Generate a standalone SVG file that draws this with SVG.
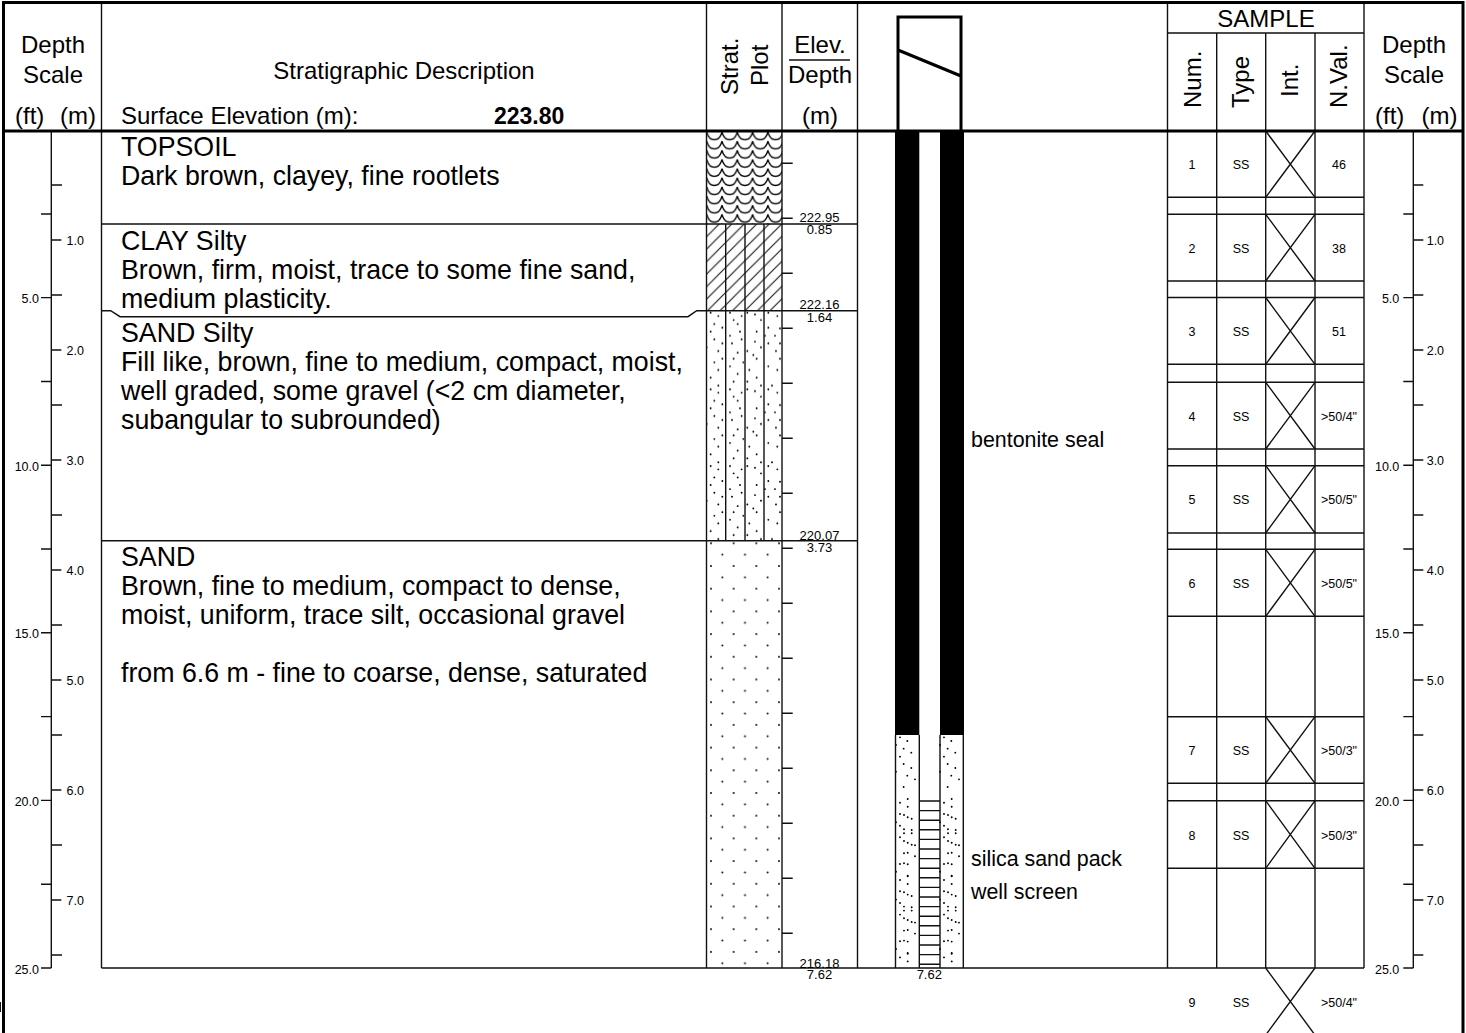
<svg xmlns="http://www.w3.org/2000/svg" xmlns:xlink="http://www.w3.org/1999/xlink" width="1466" height="1033" viewBox="0 0 1466 1033">
<style>
text{font-family:"Liberation Sans",Arial,sans-serif;fill:#000}
.h{font-size:24px}
.hm{font-size:24px;text-anchor:middle}
.d{font-size:26.75px}
.n{font-size:21.4px}
.t{font-size:12.5px}
.tr{font-size:12.5px;text-anchor:end}
.tm{font-size:12.5px;text-anchor:middle}
.e{font-size:13px;text-anchor:middle}
.l{stroke:#111;stroke-width:1.4;fill:none}
.b{stroke:#000;stroke-width:3;fill:none}
.dots{stroke:#000;stroke-linecap:round;fill:none}
</style>
<defs>
<pattern id="scallop" patternUnits="userSpaceOnUse" x="706.7" y="132" width="15.3" height="9.15">
<path d="M0 0C2.5 10.3 12.8 10.3 15.3 0M0 -9.15C2.5 1.15 12.8 1.15 15.3 -9.15M0 9.15C2.5 19.45 12.8 19.45 15.3 9.15" fill="none" stroke="#000" stroke-width="1.3"/>
</pattern>
<pattern id="hatch" patternUnits="userSpaceOnUse" x="706.7" y="224" width="12.5" height="12.5">
<path d="M-1 13.5L13.5 -1M-1 1L1 -1M11.5 13.5L13.5 11.5" stroke="#111" stroke-width="1.1"/>
</pattern>
<pattern id="sand" patternUnits="userSpaceOnUse" x="711" y="543.3" width="22.67" height="22.7">
<path class="dots" stroke-width="1.9" d="M0 0h0M22.67 0h0M0 22.7h0M22.67 22.7h0M11.33 11.35h0"/>
</pattern>
<pattern id="silt" patternUnits="userSpaceOnUse" x="690" y="310.7" width="100" height="76.7">
<g transform="translate(0,-20.67) scale(.3333)">
<path class="dots" stroke-width="5.7" d="M62 68h0M85 78h0M73 102h0M97 113h0M62 125h0M73 148h0M97 160h0M85 183h0M50 172h0M73 217h0M97 206h0M85 240h0M62 263h0M85 287h0M120 68h0M155 78h0M131 90h0M143 102h0M120 137h0M150 125h0M155 148h0M126 160h0M143 188h0M131 206h0M160 217h0M120 229h0M143 252h0M131 275h0M172 68h0M213 90h0M195 73h0M200 125h0M195 155h0M213 172h0M172 183h0M190 195h0M200 206h0M178 240h0M200 263h0M172 275h0M213 287h0M235 68h0M262 78h0M235 113h0M270 115h0M225 137h0M255 137h0M235 160h0M270 160h0M258 183h0M235 229h0M270 206h0M262 240h0M246 287h0"/>
</g>
</pattern>
<clipPath id="wellClip"><rect x="890" y="735" width="80" height="233"/></clipPath>
<g id="wellUpper" transform="translate(680,700) scale(.3333)">
<path class="dots" stroke-width="5.7" d="M660 112h0M682 123h0M648 135h0M671 146h0M694 158h0M660 170h0M671 192h0M694 204h0M648 215h0M682 227h0M705 238h0M671 261h0"/>
</g>
<path id="wellTile" class="dots" stroke-width="1.9" d="M220 102.7h0M227.7 99h0M227.7 106.7h0M220 114h0M224 115h0M227.7 117.3h0M231.7 118.7h0M216 122.3h0M220 125.7h0M224 129.3h0M231.7 130h0M224 133.3h0M231.7 133.3h0M220 137.3h0M224 141h0M227.7 142.7h0M231.7 144.7h0M235 145.3h0M224 153.3h0M227.7 152.7h0M235 156.3h0M220 164h0M224 163.3h0M227.7 164.3h0M216 171.7h0M227.7 175.7h0"/>
</defs>

<g id="patterns">
<rect x="706.7" y="131" width="75.3" height="93" fill="url(#scallop)"/>
<rect x="706.7" y="224" width="75.3" height="87" fill="url(#hatch)"/>
<rect x="706.7" y="311" width="75.3" height="230" fill="url(#silt)"/>
<rect x="706.7" y="541" width="75.3" height="427" fill="url(#sand)"/>
</g>

<g id="grid">
<path class="l" d="M101.5 2V968M706.5 2V968M725.7 224V541M745 224V541M764 224V541M782 2V968M857.5 2V968M1167.5 2V968M1216.7 33V968M1265.7 33V968M1315 33V968M1364 2V968"/>
<path class="l" d="M1167.5 33H1364M101.5 224H857.5M101.5 310.7H110.7L120 316.7H688L696.7 310.7H857.5M101.5 540.7H857.5M101.5 968H1364M789 60H850"/>
</g>

<g id="elev-ticks">
<path class="l" d="M782 163.3h10.7M782 218.3h10.7M782 273.3h10.7M782 328.3h10.7M782 383.3h10.7M782 438.3h10.7M782 493.3h10.7M782 548.3h10.7M782 603.3h10.7M782 658.3h10.7M782 713.3h10.7M782 768.3h10.7M782 823.3h10.7M782 878.3h10.7M782 933.3h10.7"/>
</g>

<g id="left-scale">
<path class="l" d="M51.3 131V968M41 214h10.3M41 297.6h10.3M41 381.5h10.3M41 465.2h10.3M41 549h10.3M41 632.8h10.3M41 716.6h10.3M41 800.4h10.3M41 884.2h10.3M41 968h10.3M51.3 185h10.7M51.3 240h10M51.3 295h10.7M51.3 350h10M51.3 405h10.7M51.3 460h10M51.3 515h10.7M51.3 570h10M51.3 625h10.7M51.3 680h10M51.3 735h10.7M51.3 790h10M51.3 845h10.7M51.3 900h10M51.3 955h10.7"/>
<text class="tr" x="39" y="302.5">5.0</text><text class="tr" x="39" y="470.5">10.0</text><text class="tr" x="39" y="638">15.0</text><text class="tr" x="39" y="806">20.0</text><text class="tr" x="39" y="973.5">25.0</text>
<text class="t" x="66.5" y="245">1.0</text><text class="t" x="66.5" y="355">2.0</text><text class="t" x="66.5" y="465">3.0</text><text class="t" x="66.5" y="575">4.0</text><text class="t" x="66.5" y="685">5.0</text><text class="t" x="66.5" y="795">6.0</text><text class="t" x="66.5" y="905">7.0</text>
</g>

<g id="right-scale">
<path class="l" d="M1413.3 131V968M1403.3 214h10M1403.3 297.6h10M1403.3 381.5h10M1403.3 465.2h10M1403.3 549h10M1403.3 632.8h10M1403.3 716.6h10M1403.3 800.4h10M1403.3 884.2h10M1403.3 968h10M1413.3 185h10M1413.3 240h10M1413.3 295h10M1413.3 350h10M1413.3 405h10M1413.3 460h10M1413.3 515h10M1413.3 570h10M1413.3 625h10M1413.3 680h10M1413.3 735h10M1413.3 790h10M1413.3 845h10M1413.3 900h10M1413.3 955h10"/>
<text class="tr" x="1399.3" y="302.5">5.0</text><text class="tr" x="1399.3" y="470.5">10.0</text><text class="tr" x="1399.3" y="638">15.0</text><text class="tr" x="1399.3" y="806">20.0</text><text class="tr" x="1399.3" y="973.5">25.0</text>
<text class="t" x="1426.7" y="245">1.0</text><text class="t" x="1426.7" y="355">2.0</text><text class="t" x="1426.7" y="465">3.0</text><text class="t" x="1426.7" y="575">4.0</text><text class="t" x="1426.7" y="685">5.0</text><text class="t" x="1426.7" y="795">6.0</text><text class="t" x="1426.7" y="905">7.0</text>
</g>

<g id="well">
<rect x="895" y="131" width="24.3" height="604" fill="#000"/>
<rect x="940" y="131" width="24" height="604" fill="#000"/>
<path class="b" d="M898 131V17H961V131M898 50L961 76"/>
<g clip-path="url(#wellClip)">
<use xlink:href="#wellUpper" href="#wellUpper"/>
<use xlink:href="#wellUpper" href="#wellUpper" x="44"/>
<use xlink:href="#wellTile" href="#wellTile" x="680" y="700"/>
<use xlink:href="#wellTile" href="#wellTile" x="680" y="777.3"/>
<use xlink:href="#wellTile" href="#wellTile" x="680" y="854.7"/>
<use xlink:href="#wellTile" href="#wellTile" x="724" y="700"/>
<use xlink:href="#wellTile" href="#wellTile" x="724" y="777.3"/>
<use xlink:href="#wellTile" href="#wellTile" x="724" y="854.7"/>
</g>
<path class="l" d="M895.5 735V968M919.3 735V968M940 735V968M963.3 735V968"/>
<path class="l" d="M919.3 801h20.7M919.3 810.6h20.7M919.3 820.2h20.7M919.3 829.8h20.7M919.3 839.4h20.7M919.3 849h20.7M919.3 858.6h20.7M919.3 868.2h20.7M919.3 877.8h20.7M919.3 887.4h20.7M919.3 897h20.7M919.3 906.6h20.7M919.3 916.2h20.7M919.3 925.8h20.7M919.3 935.4h20.7M919.3 945h20.7M919.3 954.6h20.7M919.3 964.2h20.7"/>
<text class="n" x="971" y="447">bentonite seal</text>
<text class="n" x="971" y="866">silica sand pack</text>
<text class="n" x="971" y="899">well screen</text>
<text class="e" x="929.3" y="979.3">7.62</text>
</g>

<g id="samples">
<path class="l" d="M1167.5 197.3H1364M1167.5 214.3H1364M1167.5 281H1364M1167.5 297.5H1364M1167.5 364.3H1364M1167.5 382.3H1364M1167.5 449H1364M1167.5 465.7H1364M1167.5 533H1364M1167.5 549.3H1364M1167.5 616.3H1364M1167.5 716.7H1364M1167.5 783.3H1364M1167.5 800.7H1364M1167.5 868.3H1364"/>
<path class="l" d="M1265.7 131L1315 197.3M1315 131L1265.7 197.3M1265.7 214.3L1315 281M1315 214.3L1265.7 281M1265.7 297.5L1315 364.3M1315 297.5L1265.7 364.3M1265.7 382.3L1315 449M1315 382.3L1265.7 449M1265.7 465.7L1315 533M1315 465.7L1265.7 533M1265.7 549.3L1315 616.3M1315 549.3L1265.7 616.3M1265.7 716.7L1315 783.3M1315 716.7L1265.7 783.3M1265.7 800.7L1315 868.3M1315 800.7L1265.7 868.3M1265.7 968L1315 1035M1315 968L1265.7 1035"/>
<g>
<text class="tm" x="1192" y="168.5">1</text><text class="tm" x="1241" y="168.5">SS</text><text class="tm" x="1339" y="168.5">46</text>
<text class="tm" x="1192" y="252.5">2</text><text class="tm" x="1241" y="252.5">SS</text><text class="tm" x="1339" y="252.5">38</text>
<text class="tm" x="1192" y="336">3</text><text class="tm" x="1241" y="336">SS</text><text class="tm" x="1339" y="336">51</text>
<text class="tm" x="1192" y="420.5">4</text><text class="tm" x="1241" y="420.5">SS</text><text class="tm" x="1339" y="420.5">&gt;50/4"</text>
<text class="tm" x="1192" y="504">5</text><text class="tm" x="1241" y="504">SS</text><text class="tm" x="1339" y="504">&gt;50/5"</text>
<text class="tm" x="1192" y="587.5">6</text><text class="tm" x="1241" y="587.5">SS</text><text class="tm" x="1339" y="587.5">&gt;50/5"</text>
<text class="tm" x="1192" y="755">7</text><text class="tm" x="1241" y="755">SS</text><text class="tm" x="1339" y="755">&gt;50/3"</text>
<text class="tm" x="1192" y="839.5">8</text><text class="tm" x="1241" y="839.5">SS</text><text class="tm" x="1339" y="839.5">&gt;50/3"</text>
<text class="tm" x="1192" y="1006.5">9</text><text class="tm" x="1241" y="1006.5">SS</text><text class="tm" x="1339" y="1006.5">&gt;50/4"</text>
</g>
</g>

<g id="header">
<text class="hm" x="53" y="53">Depth</text><text class="hm" x="53" y="83">Scale</text>
<text class="h" x="15" y="124">(ft)</text><text class="h" x="60" y="124">(m)</text>
<text class="hm" x="404" y="79">Stratigraphic Description</text>
<text class="h" x="121" y="124">Surface Elevation (m):</text>
<text class="h" x="494" y="124" font-size="23" style="font-size:23px" font-weight="bold">223.80</text>
<text class="h" transform="translate(738,95) rotate(-90)">Strat.</text>
<text class="h" transform="translate(768,86) rotate(-90)">Plot</text>
<text class="hm" x="820" y="53">Elev.</text><text class="hm" x="820" y="83">Depth</text><text class="hm" x="820" y="124">(m)</text>
<text class="hm" x="1266" y="27">SAMPLE</text>
<text class="h" transform="translate(1200.7,108) rotate(-90)">Num.</text>
<text class="h" transform="translate(1249,108) rotate(-90)">Type</text>
<text class="h" transform="translate(1298,97) rotate(-90)">Int.</text>
<text class="h" transform="translate(1346.7,108) rotate(-90)">N.Val.</text>
<text class="hm" x="1414" y="53">Depth</text><text class="hm" x="1414" y="83">Scale</text>
<text class="h" x="1375" y="124">(ft)</text><text class="h" x="1421.5" y="124">(m)</text>
</g>

<g id="description">
<text class="d" x="121" y="156">TOPSOIL</text>
<text class="d" x="121" y="185">Dark brown, clayey, fine rootlets</text>
<text class="d" x="121" y="250">CLAY Silty</text>
<text class="d" x="121" y="279">Brown, firm, moist, trace to some fine sand,</text>
<text class="d" x="121" y="307.7">medium plasticity.</text>
<text class="d" x="121" y="342">SAND Silty</text>
<text class="d" x="121" y="371">Fill like, brown, fine to medium, compact, moist,</text>
<text class="d" x="121" y="400">well graded, some gravel (&lt;2 cm diameter,</text>
<text class="d" x="121" y="429">subangular to subrounded)</text>
<text class="d" x="121" y="566">SAND</text>
<text class="d" x="121" y="595">Brown, fine to medium, compact to dense,</text>
<text class="d" x="121" y="624">moist, uniform, trace silt, occasional gravel</text>
<text class="d" x="121" y="682">from 6.6 m - fine to coarse, dense, saturated</text>
</g>

<g id="elev-labels">
<text class="e" x="819.5" y="222">222.95</text><text class="e" x="819.5" y="234">0.85</text>
<text class="e" x="819.5" y="309">222.16</text><text class="e" x="819.5" y="321.5">1.64</text>
<text class="e" x="819.5" y="539.5">220.07</text><text class="e" x="819.5" y="551.7">3.73</text>
<text class="e" x="819.5" y="967.5">216.18</text><text class="e" x="819.5" y="979.3">7.62</text>
</g>

<g id="frame">
<path class="b" d="M3.5 1033V2.5H1463V1033"/>
<path d="M3 131H1463" stroke="#000" stroke-width="3" fill="none"/>
<rect x="0" y="1002" width="1" height="10" fill="#111"/>
</g>
</svg>
